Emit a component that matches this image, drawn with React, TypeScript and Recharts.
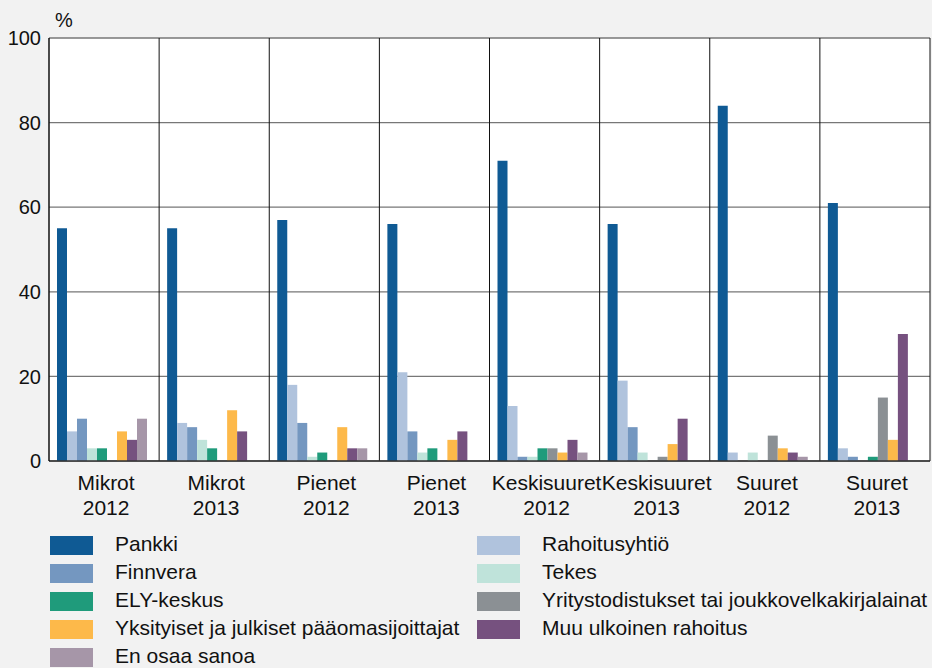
import React from "react"
import { Bar, BarChart, CartesianGrid, Label, Legend, XAxis, YAxis } from "recharts"

const sizes = ["Mikrot", "Mikrot", "Pienet", "Pienet", "Keskisuuret", "Keskisuuret", "Suuret", "Suuret"]
const years = ["2012", "2013", "2012", "2013", "2012", "2013", "2012", "2013"]

const pankki = [55, 55, 57, 56, 71, 56, 84, 61]
const rahoitusyhtio = [7, 9, 18, 21, 13, 19, 2, 3]
const finnvera = [10, 8, 9, 7, 1, 8, 0, 1]
const tekes = [3, 5, 1, 2, 1, 2, 2, 0]
const ely = [3, 3, 2, 3, 3, 0, 0, 1]
const yritystodistukset = [0, 0, 0, 0, 3, 1, 6, 15]
const yksityiset = [7, 12, 8, 5, 2, 4, 3, 5]
const muu = [5, 7, 3, 7, 5, 10, 2, 30]
const enOsaa = [10, 0, 3, 0, 2, 0, 1, 0]

const yTicks = [0, 20, 40, 60, 80, 100]

const series = [
  { key: "pankki", name: "Pankki", color: "#0f5a94", values: pankki },
  { key: "rahoitus", name: "Rahoitusyhtiö", color: "#b0c3dd", values: rahoitusyhtio },
  { key: "finnvera", name: "Finnvera", color: "#7497c0", values: finnvera },
  { key: "tekes", name: "Tekes", color: "#bfe3da", values: tekes },
  { key: "ely", name: "ELY-keskus", color: "#1f9b7b", values: ely },
  { key: "yritys", name: "Yritystodistukset tai joukkovelkakirjalainat", color: "#8b9094", values: yritystodistukset },
  { key: "yksityiset", name: "Yksityiset ja julkiset pääomasijoittajat", color: "#fdb94a", values: yksityiset },
  { key: "muu", name: "Muu ulkoinen rahoitus", color: "#76517f", values: muu },
  { key: "enosaa", name: "En osaa sanoa", color: "#a696a8", values: enOsaa },
]

const data = sizes.map((s, i) => {
  const row: Record<string, string | number> = { name: s, year: years[i] }
  series.forEach((ser) => (row[ser.key] = ser.values[i]))
  return row
})

// legend is two columns, read row-wise
const leftCol = ["pankki", "finnvera", "ely", "yksityiset", "enosaa"]
const rightCol = ["rahoitus", "tekes", "yritys", "muu"]

const font = "'Liberation Sans', Arial, sans-serif"

function XTick(props: any) {
  const { x, y, index } = props
  return (
    <text x={x + 2} y={y} textAnchor="middle" fontSize={21} fill="#111" fontFamily={font}>
      <tspan x={x + 2} dy={21}>{sizes[index]}</tspan>
      <tspan x={x + 2} dy={25}>{years[index]}</tspan>
    </text>
  )
}

function LegendBox() {
  const col = (keys: string[], swatchX: number, textX: number) =>
    keys.map((k, i) => {
      const s = series.find((d) => d.key === k)!
      return (
        <div key={k} style={{ position: "absolute", left: 0, top: i * 27.9, height: 20, width: 932 }}>
          <div style={{ position: "absolute", left: swatchX, top: 0, width: 43, height: 19, background: s.color }} />
          <div style={{ position: "absolute", left: textX, top: -4, fontSize: 21, lineHeight: "24px", color: "#111", whiteSpace: "nowrap" }}>
            {s.name}
          </div>
        </div>
      )
    })
  return (
    <div style={{ position: "relative", width: 932, height: 132, fontFamily: font }}>
      {col(leftCol, 50, 115)}
      {col(rightCol, 477, 542)}
    </div>
  )
}

export default function App() {
  return (
    <div style={{ position: "absolute", left: 0, top: 0, width: 932, height: 668, background: "#f2f2f2", overflow: "hidden" }}>
      <BarChart
        width={932}
        height={668}
        data={data}
        margin={{ top: 38, right: 2, bottom: 147, left: 0 }}
        barGap={0}
        barCategoryGap={8}
      >
        <CartesianGrid vertical={false} stroke="#777" strokeWidth={1.3} fill="#ffffff" strokeOpacity={1} />
        <CartesianGrid
          horizontal={false}
          stroke="#111"
          strokeWidth={1}
          verticalCoordinatesGenerator={({ offset }: any) =>
            sizes.map((_, i) => offset.left + ((i + 1) * offset.width) / sizes.length)
          }
        />
        <XAxis
          dataKey="name"
          tick={<XTick />}
          tickLine={false}
          axisLine={{ stroke: "#333", strokeWidth: 1.5 }}
          height={60}
          interval={0}
        />
        <YAxis
          domain={[0, 100]}
          ticks={yTicks}
          width={49}
          tickLine={false}
          axisLine={{ stroke: "#111", strokeWidth: 1.5 }}
          tick={{ fontSize: 20, fill: "#111", fontFamily: font }}
          interval={0}
        >
          <Label
            content={({ viewBox }: any) => (
              <text x={viewBox.x + viewBox.width + 6} y={viewBox.y - 11} fontSize={20} fill="#111" fontFamily={font}>
                %
              </text>
            )}
          />
        </YAxis>
        <Legend
          layout="horizontal"
          verticalAlign="middle"
          align="center"
          content={() => <LegendBox />}
          wrapperStyle={{ position: "absolute", top: 536, left: 0, width: 932, height: 132 }}
        />
        {series.map((s) => (
          <Bar key={s.key} dataKey={s.key} name={s.name} fill={s.color} isAnimationActive={false} />
        ))}
      </BarChart>
    </div>
  )
}
